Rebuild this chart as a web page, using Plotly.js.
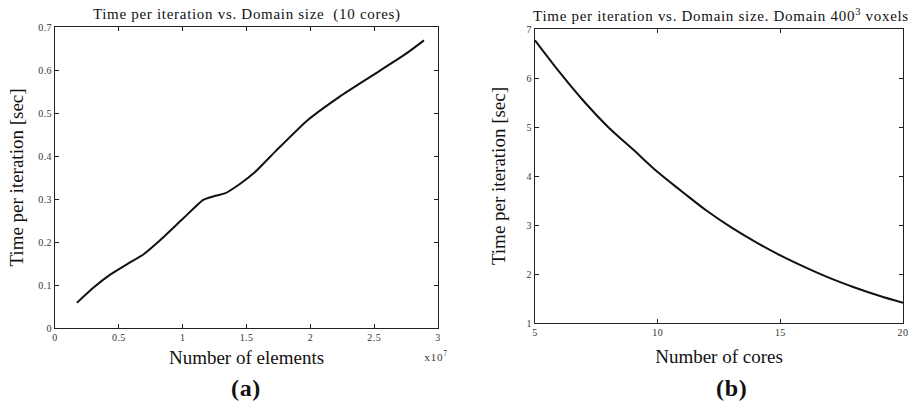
<!DOCTYPE html>
<html>
<head>
<meta charset="utf-8">
<script src="https://cdn.plot.ly/plotly-3.0.1.min.js"></script>
<style>
html,body{margin:0;padding:0;background:#fff;}
#chart{width:909px;height:404px;}
#chart .annotation-text{letter-spacing:0.7px;}
#chart .xtick text, #chart .ytick text, #chart .x2tick text, #chart .y2tick text{letter-spacing:0.4px;}
</style>
</head>
<body>
<div id="chart"></div>
<script>
// Panel (a): Time per iteration vs. number of elements (x in units of 1e7)
var elementsE7 = [0.172, 0.302, 0.432, 0.5625, 0.692, 0.823, 1.005, 1.161, 1.24, 1.33, 1.448, 1.565, 1.734, 1.97, 2.23, 2.49, 2.75, 2.89];
var timeA = [0.0586, 0.094, 0.124, 0.148, 0.171, 0.204, 0.255, 0.298, 0.306, 0.313, 0.335, 0.362, 0.413, 0.481, 0.538, 0.588, 0.638, 0.669];
var xTicksA = [0, 0.5, 1, 1.5, 2, 2.5, 3];
var xTickTextA = ['0', '0.5', '1', '1.5', '2', '2.5', '3'];
var yTicksA = [0, 0.1, 0.2, 0.3, 0.4, 0.5, 0.6, 0.7];
var yTickTextA = ['0', '0.1', '0.2', '0.3', '0.4', '0.5', '0.6', '0.7'];

// Panel (b): Time per iteration vs. number of cores
var cores = [5, 6, 7, 8, 9, 10, 11, 12, 13, 14, 15, 16, 17, 18, 19, 20];
var timeB = [6.77, 6.12, 5.52, 4.99, 4.54, 4.08, 3.68, 3.29, 2.95, 2.65, 2.38, 2.14, 1.92, 1.73, 1.56, 1.41];
var xTicksB = [5, 10, 15, 20];
var yTicksB = [1, 2, 3, 4, 5, 6, 7];

var serif = 'Liberation Serif, serif';
var tickFont = {family: serif, size: 10, color: '#333'};
var axTitleFont = {family: serif, size: 19, color: '#111'};

function axisBase(extra) {
  var a = {
    showgrid: false, zeroline: false, showline: true, linecolor: '#222', linewidth: 1,
    mirror: 'ticks', ticks: 'inside', ticklen: 4, tickcolor: '#222', tickwidth: 1,
    tickfont: tickFont, automargin: false
  };
  for (var k in extra) a[k] = extra[k];
  return a;
}

var traces = [
  {x: elementsE7, y: timeA, xaxis: 'x', yaxis: 'y', mode: 'lines',
   line: {color: '#111', width: 2, shape: 'spline', smoothing: 0.5}, hoverinfo: 'none'},
  {x: cores, y: timeB, xaxis: 'x2', yaxis: 'y2', mode: 'lines',
   line: {color: '#111', width: 2, shape: 'spline', smoothing: 1}, hoverinfo: 'none'}
];

var layout = {
  width: 909, height: 404,
  margin: {l: 0, r: 0, t: 0, b: 0},
  paper_bgcolor: '#fff', plot_bgcolor: '#fff',
  showlegend: false,
  font: {family: serif},
  xaxis: axisBase({domain: [55/909, 438/909], range: [0, 3], tickvals: xTicksA, ticktext: xTickTextA,
    anchor: 'y', title: {text: 'Number of elements', font: axTitleFont, standoff: 8}}),
  yaxis: axisBase({domain: [76/404, 377/404], range: [0, 0.7], tickvals: yTicksA, ticktext: yTickTextA,
    anchor: 'x', title: {text: 'Time per iteration [sec]', font: axTitleFont, standoff: 10}}),
  xaxis2: axisBase({domain: [535/909, 903/909], range: [5, 20], tickvals: xTicksB,
    anchor: 'y2', title: {text: 'Number of cores', font: axTitleFont, standoff: 12}}),
  yaxis2: axisBase({domain: [81/404, 375/404], range: [1, 7], tickvals: yTicksB,
    anchor: 'x2', title: {text: 'Time per iteration [sec]', font: axTitleFont, standoff: 16}}),
  annotations: [
    {text: 'Time per iteration vs. Domain size&nbsp; (10 cores)', xref: 'paper', yref: 'paper',
     x: 247/909, y: (404-14)/404, xanchor: 'center', yanchor: 'middle', showarrow: false,
     font: {family: serif, size: 15, color: '#111'}},
    {text: 'Time per iteration vs. Domain size. Domain 400<sup>3</sup> voxels', xref: 'paper', yref: 'paper',
     x: 721/909, y: (404-15)/404, xanchor: 'center', yanchor: 'middle', showarrow: false,
     font: {family: serif, size: 15, color: '#111'}},
    {text: 'x10<sup>7</sup>', xref: 'paper', yref: 'paper',
     x: 436/909, y: (404-356)/404, xanchor: 'center', yanchor: 'middle', showarrow: false,
     font: {family: serif, size: 11, color: '#333'}},
    {text: '<b>(a)</b>', xref: 'paper', yref: 'paper',
     x: 246/909, y: (404-388)/404, xanchor: 'center', yanchor: 'middle', showarrow: false,
     font: {family: serif, size: 24, color: '#111'}},
    {text: '<b>(b)</b>', xref: 'paper', yref: 'paper',
     x: 731/909, y: (404-388)/404, xanchor: 'center', yanchor: 'middle', showarrow: false,
     font: {family: serif, size: 24, color: '#111'}}
  ]
};

Plotly.newPlot('chart', traces, layout, {displayModeBar: false, staticPlot: true});
</script>
</body>
</html>
